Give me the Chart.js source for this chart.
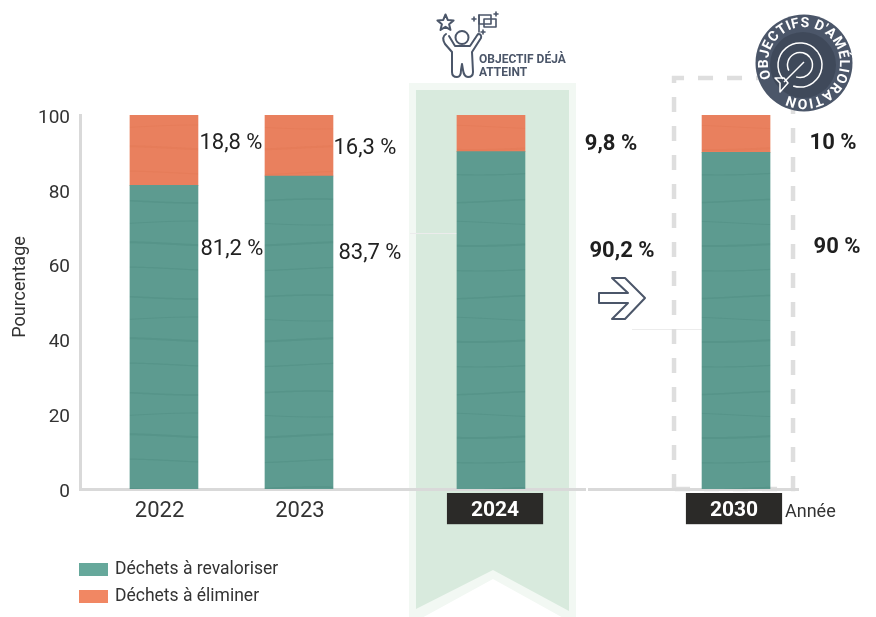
<!DOCTYPE html>
<html lang="fr">
<head>
<meta charset="utf-8">
<title>Déchets</title>
<script src="https://cdn.jsdelivr.net/npm/chart.js@4"></script>
<style>
  html, body { margin: 0; padding: 0; background: #fff; }
  canvas { display: block; }
</style>
</head>
<body>
<canvas id="myChart" width="876" height="617"></canvas>
<script>
const years = ["2022", "2023", "2024", "2030"];
const revaloriser = [81.2, 83.7, 90.2, 90];
const eliminer = [18.8, 16.3, 9.8, 10];
const yTicks = [0, 20, 40, 60, 80, 100];

// the years are not evenly spaced on the axis, so each one has a slot on a linear scale
const slots = [0, 1, 2.422, 4.237];
const tickSlots = [-0.033, 1.007, 2.452, 4.222];
const xMin = -0.622;
const xMax = 4.696;

const seriesNames = ["Déchets à revaloriser", "Déchets à éliminer"];
const dark = "#333333";
const slate = "#4b5669";
const font = "Roboto, sans-serif";

// offsets of the percentage labels from the centre of their bar
const labelDx = {
  low: [68, 71, 131, 101],
  high: [67, 66, 120, 97],
};
const labelDy = {
  low: [-240, -236, -238, -242],
  high: [-346, -341, -345, -346],
};

// faint wavy streaks like the ones on the bars of the reference
function wavyPattern(base, streak) {
  const c = document.createElement("canvas");
  c.width = 240;
  c.height = 96;
  const g = c.getContext("2d");
  g.fillStyle = base;
  g.fillRect(0, 0, c.width, c.height);
  g.strokeStyle = streak;
  [[9, 1.5], [31, 1], [52, 2], [77, 1.2]].forEach(([y, w]) => {
    g.lineWidth = w;
    g.beginPath();
    for (let x = 0; x <= 240; x += 2) {
      const yy = y + 2 * Math.sin((x / 240) * Math.PI * 2 + y);
      x === 0 ? g.moveTo(x, yy) : g.lineTo(x, yy);
    }
    g.stroke();
  });
  return g.createPattern(c, "repeat");
}

function drawRibbon(ctx, cx) {
  const poly = (pts, color) => {
    ctx.fillStyle = color;
    ctx.beginPath();
    pts.forEach((p, i) => (i ? ctx.lineTo(cx + p[0], p[1]) : ctx.moveTo(cx + p[0], p[1])));
    ctx.closePath();
    ctx.fill();
  };
  poly([[-82, 83], [85, 83], [85, 625], [2, 579], [-82, 625]], "#f2f8f3");
  poly([[-75, 90], [78, 90], [78, 611], [2, 570], [-75, 609]], "#d8eadd");
}

function drawDashedBox(ctx, cx, bottom) {
  ctx.save();
  ctx.strokeStyle = "#dedede";
  ctx.lineWidth = 4.5;
  ctx.setLineDash([15, 14]);
  ctx.beginPath();
  ctx.moveTo(cx - 62, bottom);
  ctx.lineTo(cx - 62, 78);
  ctx.lineTo(cx + 57, 78);
  ctx.lineTo(cx + 57, bottom);
  ctx.lineTo(cx - 62, bottom);
  ctx.stroke();
  ctx.restore();
}

function drawFaintLines(ctx) {
  ctx.strokeStyle = "#ececec";
  ctx.lineWidth = 1;
  ctx.beginPath();
  ctx.moveTo(410, 233.5); ctx.lineTo(457, 233.5);
  ctx.moveTo(632, 329.5); ctx.lineTo(702, 329.5);
  ctx.stroke();
}

function drawArrow(ctx) {
  const pts = [[599, 293], [628, 293], [612, 278], [625, 278], [645, 298], [625, 319], [612, 319], [628, 303], [599, 303]];
  ctx.strokeStyle = slate;
  ctx.lineWidth = 2;
  ctx.lineJoin = "round";
  ctx.beginPath();
  pts.forEach((p, i) => (i ? ctx.lineTo(p[0], p[1]) : ctx.moveTo(p[0], p[1])));
  ctx.closePath();
  ctx.stroke();
}

function drawPlus(ctx, x, y, r) {
  ctx.beginPath();
  ctx.moveTo(x - r, y); ctx.lineTo(x + r, y);
  ctx.moveTo(x, y - r); ctx.lineTo(x, y + r);
  ctx.stroke();
}

function drawPersonIcon(ctx) {
  ctx.save();
  ctx.strokeStyle = slate;
  ctx.lineWidth = 2;
  ctx.lineJoin = "round";
  ctx.lineCap = "round";

  // head
  ctx.beginPath();
  ctx.arc(462, 37.5, 6.5, 0, Math.PI * 2);
  ctx.stroke();

  // body with raised arms
  ctx.beginPath();
  ctx.moveTo(446, 34);
  ctx.quadraticCurveTo(441, 37, 445, 44);
  ctx.lineTo(452, 52);
  ctx.lineTo(452, 72);
  ctx.quadraticCurveTo(452, 77, 457, 77);
  ctx.quadraticCurveTo(461, 77, 461, 70);
  ctx.lineTo(462, 64);
  ctx.lineTo(463, 70);
  ctx.quadraticCurveTo(464, 77, 468, 77);
  ctx.quadraticCurveTo(473, 77, 473, 72);
  ctx.lineTo(472, 52);
  ctx.lineTo(481, 38);
  ctx.quadraticCurveTo(482, 34, 478, 34);
  ctx.lineTo(470, 46);
  ctx.lineTo(455, 46);
  ctx.lineTo(449, 36);
  ctx.stroke();

  // star
  ctx.beginPath();
  for (let i = 0; i < 10; i++) {
    const r = i % 2 ? 3.8 : 8.5;
    const a = -Math.PI / 2 + (i * Math.PI) / 5;
    const x = 445.5 + r * Math.cos(a);
    const y = 23 + r * Math.sin(a);
    i ? ctx.lineTo(x, y) : ctx.moveTo(x, y);
  }
  ctx.closePath();
  ctx.stroke();

  // flag
  ctx.lineWidth = 1.6;
  ctx.strokeRect(479, 15, 12, 9);
  ctx.strokeRect(484, 19, 12, 8);
  ctx.beginPath();
  ctx.moveTo(479, 15);
  ctx.lineTo(479, 32);
  ctx.stroke();
  drawPlus(ctx, 474, 19, 2);
  drawPlus(ctx, 496, 14, 2);
  drawPlus(ctx, 483, 32, 2);
  ctx.restore();

  ctx.fillStyle = slate;
  ctx.font = "bold 12px " + font;
  ctx.textAlign = "left";
  ctx.textBaseline = "middle";
  ctx.fillText("OBJECTIF DÉJÀ", 479, 60);
  ctx.fillText("ATTEINT", 479, 73);
}

function drawTargetBadge(ctx) {
  const cx = 804, cy = 63, rim = 39.5;
  ctx.save();
  ctx.fillStyle = slate;
  ctx.beginPath();
  ctx.arc(cx, cy, 48.5, 0, Math.PI * 2);
  ctx.fill();
  ctx.fillStyle = "#3f495a";
  ctx.beginPath();
  ctx.arc(cx - 1, cy + 2, 33, 0, Math.PI * 2);
  ctx.fill();

  // text around the rim, spaced by the width of each letter
  const text = [..."OBJECTIFS D'AMÉLIORATION"];
  ctx.fillStyle = "#ffffff";
  ctx.font = "bold 14px " + font;
  ctx.textAlign = "center";
  ctx.textBaseline = "middle";
  const start = -Math.PI * 1.14;
  const sweep = Math.PI * 1.79;
  const widths = text.map((ch) => ctx.measureText(ch).width);
  const total = widths.reduce((a, b) => a + b, 0);
  let run = 0;
  text.forEach((ch, i) => {
    const a = start + ((run + widths[i] / 2) / total) * sweep;
    run += widths[i];
    ctx.save();
    ctx.translate(cx + rim * Math.cos(a), cy + rim * Math.sin(a));
    ctx.rotate(a + Math.PI / 2);
    ctx.fillText(ch, 0, 0);
    ctx.restore();
  });

  // target and dart
  ctx.strokeStyle = "#ffffff";
  ctx.lineWidth = 1.5;
  ctx.lineJoin = "round";
  ctx.beginPath();
  ctx.arc(cx - 4, cy + 2, 22, -Math.PI * 0.2, Math.PI * 0.6);
  ctx.stroke();
  ctx.beginPath();
  ctx.arc(cx - 4, cy + 2, 22, Math.PI * 0.78, Math.PI * 1.8);
  ctx.stroke();
  ctx.beginPath();
  ctx.arc(cx - 4, cy + 2, 12.5, -Math.PI * 0.2, Math.PI * 0.6);
  ctx.stroke();
  ctx.beginPath();
  ctx.arc(cx - 4, cy + 2, 12.5, Math.PI * 0.85, Math.PI * 1.8);
  ctx.stroke();
  ctx.beginPath();
  ctx.moveTo(cx, cy - 1);
  ctx.lineTo(cx - 20, cy + 19);
  ctx.stroke();
  ctx.beginPath();
  ctx.moveTo(cx - 20, cy + 15);
  ctx.lineTo(cx - 29, cy + 15);
  ctx.lineTo(cx - 24, cy + 20);
  ctx.lineTo(cx - 24, cy + 29);
  ctx.lineTo(cx - 16, cy + 20);
  ctx.closePath();
  ctx.stroke();
  ctx.restore();
}

const backdrop = {
  id: "backdrop",
  beforeDraw(chart) {
    const { ctx, scales } = chart;
    ctx.save();
    drawRibbon(ctx, scales.x.getPixelForValue(slots[2]));
    drawFaintLines(ctx);
    drawDashedBox(ctx, scales.x.getPixelForValue(slots[3]), scales.y.getPixelForValue(0));
    ctx.restore();
  },
};

const annotations = {
  id: "annotations",
  afterDraw(chart) {
    const { ctx, scales } = chart;
    const base = scales.y.getPixelForValue(0);
    ctx.save();

    // percentage labels next to the bars
    ctx.textAlign = "center";
    ctx.textBaseline = "middle";
    years.forEach((year, i) => {
      const cx = scales.x.getPixelForValue(slots[i]);
      const goal = i >= 2;
      ctx.fillStyle = goal ? "#1f1f1f" : "#222222";
      ctx.font = (goal ? "bold 22px " : "22px ") + font;
      const fmt = (v) => String(v).replace(".", ",") + " %";
      ctx.fillText(fmt(revaloriser[i]), cx + labelDx.low[i], base + labelDy.low[i]);
      ctx.fillText(fmt(eliminer[i]), cx + labelDx.high[i], base + labelDy.high[i]);
    });

    // small break in the axis line
    ctx.fillStyle = "#ffffff";
    ctx.fillRect(586, 486, 2, 6);

    // axis names
    ctx.fillStyle = dark;
    ctx.font = "18px " + font;
    ctx.textAlign = "left";
    ctx.fillText("Année", 785, 512);

    ctx.save();
    ctx.translate(20, 287);
    ctx.rotate(-Math.PI / 2);
    ctx.textAlign = "center";
    ctx.fillText("Pourcentage", 0, 0);
    ctx.restore();

    // legend, stacked in the bottom left corner
    ctx.font = "17.5px " + font;
    seriesNames.forEach((name, i) => {
      const y = 563 + i * 27;
      ctx.fillStyle = i === 0 ? "#66a89b" : "#f18763";
      ctx.fillRect(79, y, 29, 13);
      ctx.fillStyle = dark;
      ctx.fillText(name, 115, y + 6.5);
    });

    drawArrow(ctx);
    drawPersonIcon(ctx);
    drawTargetBadge(ctx);
    ctx.restore();
  },
};

const ctx = document.getElementById("myChart");

new Chart(ctx, {
  type: "bar",
  data: {
    datasets: [
      {
        label: seriesNames[0],
        data: revaloriser.map((v, i) => ({ x: slots[i], y: v })),
        backgroundColor: wavyPattern("#5d9b90", "rgba(70,130,120,0.28)"),
      },
      {
        label: seriesNames[1],
        data: eliminer.map((v, i) => ({ x: slots[i], y: v })),
        backgroundColor: wavyPattern("#e9805e", "rgba(220,110,75,0.22)"),
      },
    ],
  },
  plugins: [backdrop, annotations],
  options: {
    responsive: false,
    animation: false,
    barThickness: 68,
    layout: { padding: { top: 115, right: 78, bottom: 0, left: 0 } },
    plugins: {
      legend: { display: false },
      tooltip: { enabled: false },
    },
    scales: {
      x: {
        type: "linear",
        stacked: true,
        min: xMin,
        max: xMax,
        offset: false,
        afterBuildTicks(scale) {
          scale.ticks = tickSlots.map((v) => ({ value: v }));
        },
        afterFit(scale) {
          scale.height = 128;
        },
        grid: { display: false, drawTicks: false },
        border: { display: true, color: "#d9d9d9", width: 3 },
        ticks: {
          autoSkip: false,
          maxRotation: 0,
          padding: 9,
          callback: (v, i) => years[i],
          color: (c) => (c.index >= 2 ? "#ffffff" : dark),
          font: (c) =>
            c.index >= 2
              ? { family: font, size: 21, weight: "bold" }
              : { family: font, size: 22 },
          showLabelBackdrop: (c) => c.index >= 2,
          backdropColor: "#2b2a28",
          backdropPadding: { left: 24, right: 24, top: 5, bottom: 1 },
        },
      },
      y: {
        stacked: true,
        min: 0,
        max: 100,
        afterBuildTicks(scale) {
          scale.ticks = yTicks.map((v) => ({ value: v }));
        },
        afterFit(scale) {
          scale.width = 80;
        },
        grid: { display: false, drawTicks: false },
        border: { display: true, color: "#d9d9d9", width: 3 },
        ticks: {
          padding: 10,
          labelOffset: 3,
          color: dark,
          font: { family: font, size: 19 },
        },
      },
    },
  },
});
</script>
</body>
</html>
